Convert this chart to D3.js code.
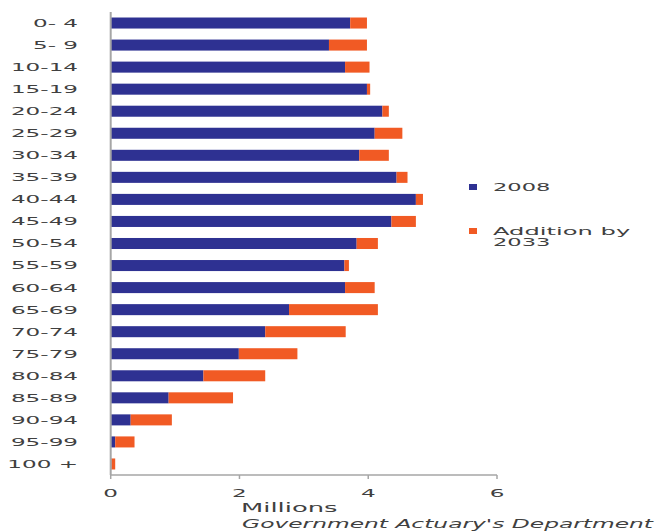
<!DOCTYPE html>
<html>
<head>
<meta charset="utf-8">
<script src="https://cdn.jsdelivr.net/npm/d3@7"></script>
<style>
  html, body { margin: 0; padding: 0; background: #fff; }
  svg { display: block; }
</style>
</head>
<body>
<svg id="chart" width="656" height="532"></svg>
<script>
// Population of the UK by age group, 2008, and the projected addition by 2033 (millions)
const ageGroups = ["0- 4", "5- 9", "10-14", "15-19", "20-24", "25-29", "30-34", "35-39",
  "40-44", "45-49", "50-54", "55-59", "60-64", "65-69", "70-74", "75-79", "80-84",
  "85-89", "90-94", "95-99", "100 +"];
const pop2008 = [3.72, 3.39, 3.64, 3.98, 4.22, 4.10, 3.86, 4.44, 4.74, 4.36, 3.82,
  3.63, 3.64, 2.77, 2.40, 1.99, 1.44, 0.90, 0.31, 0.07, 0.01];
const addition2033 = [0.26, 0.59, 0.38, 0.05, 0.10, 0.43, 0.46, 0.17, 0.11, 0.38, 0.33,
  0.07, 0.46, 1.38, 1.25, 0.91, 0.96, 1.00, 0.64, 0.30, 0.06];
const xTicks = [0, 2, 4, 6];
const seriesNames = ["2008", "Addition by 2033"];
const seriesColors = ["#2e3192", "#f15a24"];

const svg = d3.select("#chart");
const textColor = "#404040";
const axisColor = "#a6a6a6";
const fontFamily = "'DejaVu Sans', Verdana, sans-serif";

const x = d3.scaleLinear().domain([0, 6]).range([110.7, 497]);
const y = d3.scaleBand().domain(ageGroups).range([12, 475]).paddingInner(0.5).paddingOuter(0.25);

const rows = ageGroups.map((g, i) => ({ group: g, base: pop2008[i], add: addition2033[i] }));

// stacked bars
const bars = svg.append("g");
bars.selectAll("rect.base").data(rows).join("rect")
  .attr("class", "base")
  .attr("x", x(0))
  .attr("y", d => y(d.group))
  .attr("width", d => x(d.base) - x(0))
  .attr("height", y.bandwidth())
  .attr("fill", seriesColors[0]);
bars.selectAll("rect.add").data(rows).join("rect")
  .attr("class", "add")
  .attr("x", d => x(d.base))
  .attr("y", d => y(d.group))
  .attr("width", d => x(d.base + d.add) - x(d.base))
  .attr("height", y.bandwidth())
  .attr("fill", seriesColors[1]);

// horizontally widened lettering
function wideText(sel, tx, ty, str, opts = {}) {
  return sel.append("text")
    .attr("transform", `translate(${tx},${ty}) scale(${opts.stretch || 2.1},1)`)
    .attr("text-anchor", opts.anchor || "start")
    .attr("dominant-baseline", "central")
    .attr("font-family", fontFamily)
    .attr("font-size", opts.size || 11)
    .attr("font-style", opts.italic ? "italic" : "normal")
    .attr("fill", opts.color || textColor)
    .text(str);
}

// category axis
const yAxis = svg.append("g");
yAxis.append("line")
  .attr("x1", x(0)).attr("x2", x(0))
  .attr("y1", 12).attr("y2", 475)
  .attr("stroke", axisColor).attr("stroke-width", 2);
rows.forEach(d => wideText(yAxis, 78, y(d.group) + y.bandwidth() / 2, d.group, { anchor: "end" }));

// value axis
const xAxis = svg.append("g");
xAxis.append("line")
  .attr("x1", x(0)).attr("x2", x(6))
  .attr("y1", 475).attr("y2", 475)
  .attr("stroke", axisColor).attr("stroke-width", 1.5);
xTicks.forEach(t => {
  xAxis.append("line")
    .attr("x1", x(t)).attr("x2", x(t))
    .attr("y1", 475).attr("y2", 479)
    .attr("stroke", axisColor).attr("stroke-width", 1.5);
  wideText(xAxis, x(t), 493, String(t), { anchor: "middle" });
});
wideText(xAxis, 241, 507.5, "Millions", { size: 12, stretch: 2.15 });

// legend
const legend = svg.append("g");
legend.append("rect").attr("x", 469).attr("y", 184).attr("width", 8).attr("height", 6).attr("fill", seriesColors[0]);
wideText(legend, 493, 187, seriesNames[0], { stretch: 2.05 });
legend.append("rect").attr("x", 469).attr("y", 228).attr("width", 8).attr("height", 6).attr("fill", seriesColors[1]);
wideText(legend, 493, 231, "Addition by", { stretch: 2.2 });
wideText(legend, 493, 242.5, "2033", { stretch: 2.05 });

// source
wideText(svg, 653, 524, "Government Actuary's Department", { anchor: "end", italic: true, size: 11.5, stretch: 2.03 });
</script>
</body>
</html>
